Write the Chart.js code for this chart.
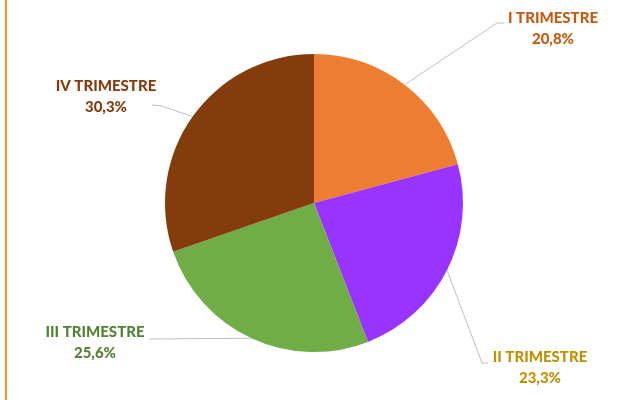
<!DOCTYPE html>
<html>
<head>
<meta charset="utf-8">
<script src="https://cdn.jsdelivr.net/npm/chart.js@4.4.1/dist/chart.umd.min.js"></script>
<style>
  html, body { margin:0; padding:0; background:#fff; }
  #wrap { position:relative; width:630px; height:404px; }
  #borde { position:absolute; left:5px; top:0; width:0; height:400px; border-left:2px solid #F7941D; }
</style>
</head>
<body>
<div id="wrap">
  <div id="borde"></div>
  <canvas id="graficoTrimestres" width="630" height="404"></canvas>
</div>
<script>

const trimestres = ["I TRIMESTRE", "II TRIMESTRE", "III TRIMESTRE", "IV TRIMESTRE"];

const porcentajes = [20.8, 23.3, 25.6, 30.3];

const etiquetasValor = ["20,8%", "23,3%", "25,6%", "30,3%"];

const coloresSector = ["#ED7D31", "#9933FF", "#70AD47", "#843C0C"];

const coloresTexto = ["#C55A11", "#BF9000", "#548235", "#843C0C"];

// where each label sits, and the bend of its leader line
const posEtiqueta = [
    { x:553, y:18, codo:[497,23], fin:[504,23] },
    { x:540, y:357, codo:[482,363], fin:[488,363] },
    { x:95, y:332, codo:null, fin:[149,339] },
    { x:106, y:86, codo:[160,105.5], fin:[152,105] }
];

const etiquetasPlugin = {
    id:"etiquetas",
    afterDatasetsDraw(chart){
        const ctx = chart.ctx;
        const arcos = chart.getDatasetMeta(0).data;
        arcos.forEach((arco, i) => {
            const p = arco.getProps(["x","y","startAngle","endAngle","outerRadius"], true);
            const medio = (p.startAngle + p.endAngle) / 2;
            const ox = p.x + Math.cos(medio) * p.outerRadius;
            const oy = p.y + Math.sin(medio) * p.outerRadius;
            const pos = posEtiqueta[i];

            ctx.save();
            ctx.strokeStyle = "#BFBFBF";
            ctx.lineWidth = 1;
            ctx.beginPath();
            ctx.moveTo(ox, oy);
            if(pos.codo){
                ctx.lineTo(pos.codo[0], pos.codo[1]);
            }
            ctx.lineTo(pos.fin[0], pos.fin[1]);
            ctx.stroke();

            ctx.fillStyle = coloresTexto[i];
            ctx.font = "900 15px Lato";
            ctx.textAlign = "center";
            ctx.textBaseline = "middle";
            ctx.fillText(trimestres[i], pos.x, pos.y);
            ctx.fillText(etiquetasValor[i], pos.x, pos.y + 21.5);
            ctx.restore();
        });
    }
};

new Chart(
    document.getElementById("graficoTrimestres"),
    {
        type:"pie",
        data:{
            labels:trimestres,
            datasets:[{
                data:porcentajes,
                backgroundColor:coloresSector,
                borderWidth:0,
                hoverOffset:0
            }]
        },
        options:{
            responsive:false,
            animation:false,
            events:[],
            layout:{
                padding:{ top:54, bottom:52, left:0, right:2 }
            },
            plugins:{
                legend:{ display:false },
                tooltip:{ enabled:false }
            }
        },
        plugins:[etiquetasPlugin]
    }
);

</script>
</body>
</html>
